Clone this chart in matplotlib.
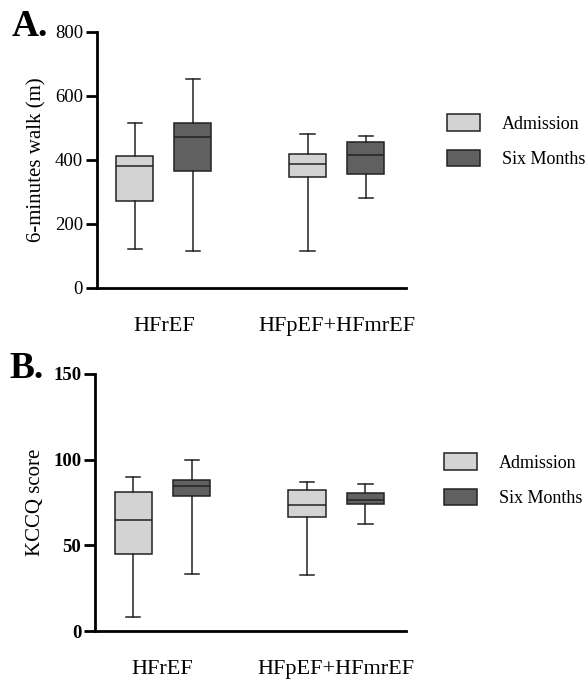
import matplotlib.pyplot as plt
from matplotlib.patches import Patch

plt.rcParams['font.family'] = ['Liberation Serif', 'DejaVu Serif']

groups = ["HFrEF", "HFpEF+HFmrEF"]
series = ["Admission", "Six Months"]
colors = ["#d3d3d3", "#606060"]

# whisker low, Q1, median, Q3, whisker high  [group][series]
walk = [
    [[122, 273, 382, 411, 515], [115, 365, 472, 516, 653]],
    [[117, 346, 386, 418, 480], [281, 356, 414, 455, 475]],
]
kccq = [
    [[8.2, 45.2, 64.7, 81.2, 89.8], [33.3, 78.7, 84.4, 87.9, 99.7]],
    [[32.5, 66.6, 73.6, 82.4, 86.9], [62.5, 74.2, 76.2, 80.5, 85.9]],
]

fig = plt.figure(figsize=(5.87, 6.8), dpi=100)
axA = fig.add_axes([0.165, 0.5765, 0.527, 0.3765])
axB = fig.add_axes([0.162, 0.072, 0.530, 0.378])

def draw(ax, data, ymax, ystep, ylabel, tickbold, letter):
    off = 0.168
    for gi, g in enumerate(data):
        for si, v in enumerate(g):
            st = [dict(whislo=v[0], q1=v[1], med=v[2], q3=v[3], whishi=v[4], fliers=[])]
            pos = gi + (si - 0.5) * 2 * off
            ax.bxp(st, positions=[pos], widths=0.215, capwidths=0.082,
                   patch_artist=True, showfliers=False,
                   boxprops=dict(facecolor=colors[si], edgecolor="#222222", linewidth=1.1),
                   medianprops=dict(color="#222222", linewidth=1.1),
                   whiskerprops=dict(color="#222222", linewidth=1.1),
                   capprops=dict(color="#222222", linewidth=1.1))
    ax.set_xlim(-0.388, 1.403)
    ax.set_ylim(0, ymax)
    ax.set_yticks(range(0, ymax + 1, ystep))
    ax.set_xticks([0, 1])
    ax.set_xticklabels(groups, fontsize=16)
    ax.tick_params(axis='x', length=0, pad=21)
    ax.tick_params(axis='y', length=8, width=2, labelsize=13.5, pad=2)
    if tickbold:
        for t in ax.get_yticklabels():
            t.set_fontweight('bold')
    for s in ['top', 'right']:
        ax.spines[s].set_visible(False)
    for s in ['left', 'bottom']:
        ax.spines[s].set_linewidth(2)
    ax.set_ylabel(ylabel, fontsize=15, labelpad=6)
    ax.text(-0.275, 1.02, letter, transform=ax.transAxes, fontsize=27,
            fontweight='bold', ha='left', va='center')

draw(axA, walk, 800, 200, "6-minutes walk (m)", False, "A.")
draw(axB, kccq, 150, 50, "KCCQ score", True, "B.")

handles = [Patch(facecolor=c, edgecolor="#222222", linewidth=1.1) for c in colors]
for anchor in [(447 / 587, 1 - 114 / 680), (444 / 587, 1 - 453 / 680)]:
    fig.legend(handles, series, loc='upper left', bbox_to_anchor=anchor,
               frameon=False, fontsize=13, borderpad=0, borderaxespad=0,
               handlelength=1.85, handleheight=1.05, handletextpad=1.2,
               labelspacing=0.95)

fig.savefig("out.png", dpi=100)
